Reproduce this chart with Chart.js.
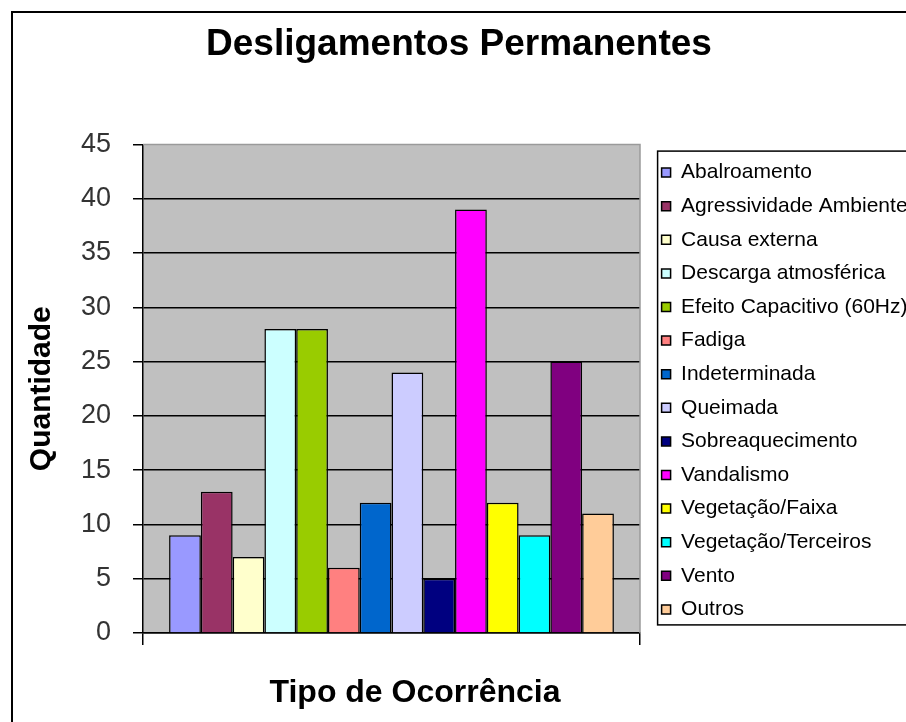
<!DOCTYPE html>
<html lang="pt">
<head>
<meta charset="UTF-8">
<title>Desligamentos Permanentes</title>
<style>
    html, body { margin: 0; padding: 0; background: #fff; overflow: hidden; }
    #wrap { width: 906px; height: 722px; }
</style>
<script src="https://cdn.jsdelivr.net/npm/chart.js"></script>
</head>
<body>
<div id="wrap"><canvas id="grafico" width="906" height="722"></canvas></div>
<script>
    // dados
    const tipos = [
        'Abalroamento', 'Agressividade Ambiente', 'Causa externa', 'Descarga atmosférica',
        'Efeito Capacitivo (60Hz)', 'Fadiga', 'Indeterminada', 'Queimada',
        'Sobreaquecimento', 'Vandalismo', 'Vegetação/Faixa', 'Vegetação/Terceiros',
        'Vento', 'Outros'
    ];
    const quantidades = [9, 13, 7, 28, 28, 6, 12, 24, 5, 39, 12, 9, 25, 11];
    const cores = [
        '#9999FF', '#993366', '#FFFFCC', '#CCFFFF', '#99CC00', '#FF8080', '#0066CC',
        '#CCCCFF', '#000080', '#FF00FF', '#FFFF00', '#00FFFF', '#800080', '#FFCC99'
    ];
    const yMin = 0;
    const yMax = 45;
    const yPasso = 5;

    const titulo = 'Desligamentos Permanentes';
    const tituloY = 'Quantidade';
    const tituloX = 'Tipo de Ocorrência';

    const fonte = 'Arial, "Liberation Sans", sans-serif';
    const legPadding = 12.6;

    // fundo cinza da área de plotagem
    const fundo = {
        id: 'fundo',
        beforeDraw(chart) {
            const { ctx, chartArea: a } = chart;
            ctx.save();
            ctx.fillStyle = '#fff';
            ctx.fillRect(0, 0, chart.width, chart.height);
            ctx.fillStyle = '#C0C0C0';
            ctx.fillRect(a.left, a.top, a.right - a.left, a.bottom - a.top);
            ctx.restore();
        }
    };

    // legenda mais larga (o texto sai pela borda, como no Excel) e afastada do gráfico
    const legendaLarga = {
        id: 'legendaLarga',
        afterInit(chart) {
            const lg = chart.legend;
            const fitOrig = lg.fit.bind(lg);
            lg.fit = function () { fitOrig(); this.width = 266; };
        },
        beforeDraw(chart) {
            chart.legend.left += 9;
            chart.legend.right += 9;
        }
    };

    // bordas, caixa da legenda, moldura e título do eixo X
    const molduras = {
        id: 'molduras',
        afterDraw(chart) {
            const { ctx, chartArea: a } = chart;
            ctx.save();
            // borda superior/direita da área de plotagem
            ctx.strokeStyle = '#9a9a9a';
            ctx.lineWidth = 1.5;
            ctx.beginPath();
            ctx.moveTo(a.left, a.top);
            ctx.lineTo(a.right, a.top);
            ctx.lineTo(a.right, a.bottom);
            ctx.stroke();

            // caixa da legenda
            const hb = chart.legend.legendHitBoxes;
            if (hb && hb.length) {
                const topo = Math.min(...hb.map(h => h.top)) - 11;
                const base = Math.max(...hb.map(h => h.top + h.height)) + 5;
                const esq = chart.legend.left + legPadding - 4;
                ctx.strokeStyle = '#000';
                ctx.lineWidth = 1.5;
                ctx.strokeRect(esq, topo, 1000, base - topo);
            }

            // moldura externa
            ctx.lineWidth = 2;
            ctx.strokeRect(12, 12, 2000, 2000);

            // título do eixo X
            ctx.fillStyle = '#000';
            ctx.font = 'bold 32px ' + fonte;
            ctx.textAlign = 'center';
            ctx.textBaseline = 'middle';
            ctx.fillText(tituloX, 415, 693);
            ctx.restore();
        }
    };

    const datasets = tipos.map((t, i) => ({
        label: t,
        data: [quantidades[i]],
        backgroundColor: cores[i],
        borderColor: '#000',
        borderWidth: 1.5,
        barPercentage: 1.0,
        categoryPercentage: 0.895
    }));

    new Chart(document.getElementById('grafico'), {
        type: 'bar',
        data: { labels: [''], datasets: datasets },
        options: {
            responsive: false,
            animation: false,
            layout: { padding: { left: 12, top: 12, right: 0, bottom: 0 } },
            plugins: {
                title: {
                    display: true,
                    text: titulo,
                    color: '#000',
                    font: { family: fonte, size: 37, weight: 'bold' },
                    padding: { top: 11, bottom: 77 }
                },
                legend: {
                    position: 'right',
                    align: 'center',
                    title: {
                        display: true,
                        text: ' ',
                        font: { size: 40 },
                        padding: 0
                    },
                    labels: {
                        color: '#000',
                        font: { family: fonte, size: 21 },
                        boxWidth: 9,
                        boxHeight: 9,
                        padding: legPadding
                    }
                },
                tooltip: { enabled: false }
            },
            scales: {
                x: {
                    ticks: { display: false },
                    grid: {
                        drawOnChartArea: false,
                        drawTicks: true,
                        tickLength: 12,
                        color: '#000',
                        lineWidth: 1.5
                    },
                    border: { display: true, color: '#000', width: 1.5 },
                    afterFit(scale) { scale.height = 89; }
                },
                y: {
                    min: yMin,
                    max: yMax,
                    ticks: {
                        stepSize: yPasso,
                        color: '#333',
                        padding: 22,
                        font: { family: fonte, size: 27 }
                    },
                    grid: {
                        color: c => (c.tick && c.tick.value === yMax) ? 'rgba(0,0,0,0)' : '#000',
                        tickColor: '#000',
                        lineWidth: 1.5,
                        tickLength: 10
                    },
                    border: { display: true, color: '#000', width: 1.5 },
                    title: {
                        display: true,
                        text: tituloY,
                        color: '#000',
                        font: { family: fonte, size: 30, weight: 'bold' },
                        padding: { top: 12, bottom: 10 }
                    },
                    afterFit(scale) { scale.width = 131; }
                }
            }
        },
        plugins: [legendaLarga, fundo, molduras]
    });
</script>
</body>
</html>
